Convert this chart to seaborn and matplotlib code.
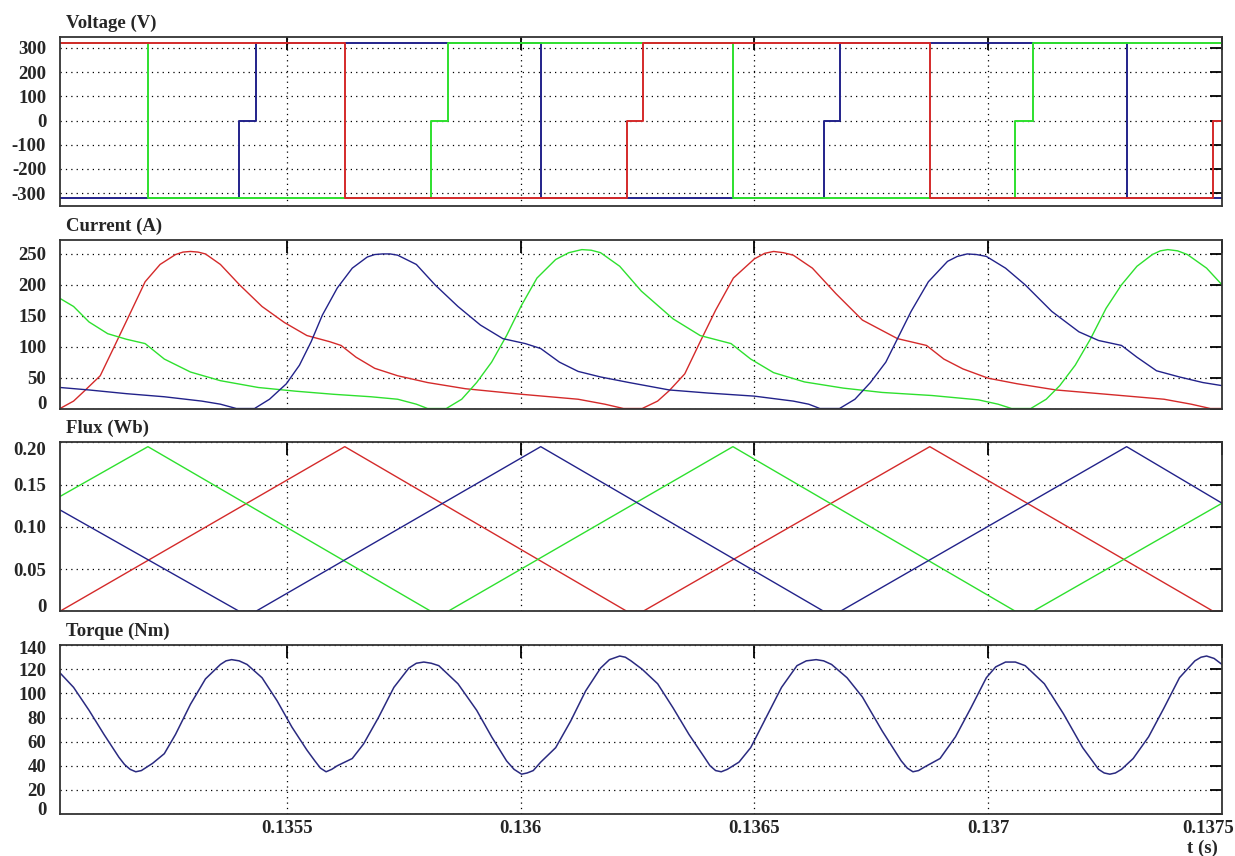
import numpy as np
import pandas as pd
import matplotlib
matplotlib.use('Agg')
import matplotlib.pyplot as plt
import matplotlib.transforms as mtrans
import seaborn as sns

# Plot look: plain white, bold serif text like the old scope printout
sns.set_style('white')
plt.rcParams['font.family'] = ['Liberation Serif', 'DejaVu Serif']
plt.rcParams['font.weight'] = 'bold'

RED = '#d42a2a'
GREEN = '#2ee02e'
BLUE = '#22228a'

# all times below are microseconds after T0
T0 = 0.135

red_sw = [15, 624, 1227, 1262, 1875, 2481, 2500]
green_sw = [15, 203, 808, 845, 1454, 2058, 2096, 2500]
blue_sw = [15, 398, 434, 1043, 1648, 1684, 2296, 2500]

# phase voltage after each switching instant (V)
red_volt = [320, -320, 0, 320, -320, 0, 0]
green_volt = [320, -320, 0, 320, -320, 0, 320, 320]
blue_volt = [-320, 0, 320, -320, 0, 320, -320, -320]

# flux linkage at the switching instants (Wb)
red_flux = [0, 0.195, 0, 0, 0.195, 0, 0]
green_flux = [0.136, 0.195, 0, 0, 0.195, 0, 0, 0.128]
blue_flux = [0.12, 0, 0, 0.195, 0, 0, 0.195, 0.128]

# ---- phase currents (us, A) ----
red_current = [(15, 0), (44, 12), (68, 29), (101, 53), (129, 97), (165, 154), (197, 205),
               (229, 233), (262, 249), (278, 253), (294, 254), (310, 253), (326, 250),
               (358, 233), (399, 200), (447, 165), (495, 139), (543, 118), (592, 108),
               (616, 102), (648, 83), (688, 65), (737, 53), (801, 42), (882, 32),
               (1002, 23), (1123, 15), (1180, 7), (1220, 0), (1260, 0), (1293, 12),
               (1318, 29), (1351, 56), (1384, 108), (1417, 159), (1455, 211), (1500, 242),
               (1522, 251), (1541, 254), (1562, 252), (1583, 248), (1624, 227), (1674, 186),
               (1731, 143), (1806, 113), (1868, 102), (1905, 80), (1946, 64), (2000, 49),
               (2062, 40), (2145, 30), (2269, 22), (2376, 15), (2434, 7), (2475, 0),
               (2500, 0)]
green_current = [(15, 178), (44, 165), (77, 140), (117, 121), (157, 112), (197, 105),
                 (238, 80), (294, 59), (358, 45), (439, 34), (519, 28), (600, 23),
                 (680, 19), (737, 15), (777, 7), (801, 0), (841, 0), (874, 15), (906, 42),
                 (938, 75), (970, 118), (1002, 167), (1035, 211), (1075, 241), (1103, 252),
                 (1131, 257), (1151, 256), (1171, 252), (1212, 230), (1258, 190),
                 (1326, 145), (1384, 118), (1450, 105), (1492, 80), (1541, 58), (1607, 43),
                 (1690, 33), (1773, 26), (1880, 21), (1979, 14), (2021, 7), (2050, 0),
                 (2091, 0), (2124, 15), (2153, 37), (2186, 70), (2219, 113), (2252, 162),
                 (2285, 200), (2318, 230), (2351, 249), (2368, 255), (2384, 257),
                 (2405, 255), (2426, 249), (2467, 227), (2500, 200)]
blue_current = [(15, 34), (77, 30), (157, 24), (238, 19), (318, 12), (358, 7), (392, 0),
                (431, 0), (463, 15), (499, 40), (527, 70), (552, 108), (576, 151),
                (608, 195), (640, 227), (672, 245), (688, 249), (705, 250), (721, 250),
                (737, 248), (777, 233), (817, 200), (866, 165), (914, 135), (962, 113),
                (1010, 105), (1043, 97), (1083, 75), (1123, 60), (1171, 51), (1232, 42),
                (1318, 30), (1401, 25), (1500, 20), (1583, 12), (1616, 7), (1640, 0),
                (1682, 0), (1715, 15), (1748, 42), (1781, 75), (1806, 113), (1835, 157),
                (1872, 205), (1913, 238), (1934, 246), (1955, 250), (1975, 249),
                (1996, 246), (2037, 227), (2079, 200), (2136, 157), (2194, 124),
                (2236, 110), (2285, 102), (2318, 83), (2360, 61), (2409, 51), (2459, 42),
                (2500, 37)]

# ---- total torque (us, Nm) ----
torque = [(15, 117), (44, 105), (77, 86), (109, 66), (141, 47), (153, 41), (165, 37),
          (177, 35), (189, 36), (201, 39), (213, 42), (238, 50), (262, 66), (294, 91),
          (326, 112), (358, 124), (370, 127), (382, 128), (398, 127), (415, 124),
          (447, 113), (479, 94), (511, 72), (543, 53), (560, 44), (572, 38), (584, 35),
          (596, 37), (608, 40), (624, 43), (640, 46), (664, 58), (696, 80), (729, 105),
          (761, 121), (777, 125), (793, 126), (809, 125), (825, 123), (866, 108),
          (906, 86), (938, 64), (970, 44), (986, 37), (1002, 33), (1014, 34), (1027, 36),
          (1043, 43), (1075, 55), (1107, 77), (1139, 102), (1171, 121), (1190, 128),
          (1212, 131), (1224, 130), (1236, 127), (1260, 120), (1293, 108), (1326, 88),
          (1360, 66), (1393, 47), (1405, 40), (1417, 36), (1429, 35), (1442, 37),
          (1467, 43), (1492, 55), (1525, 80), (1558, 105), (1591, 123), (1611, 127),
          (1632, 128), (1648, 127), (1665, 124), (1698, 113), (1731, 97), (1773, 69),
          (1814, 44), (1827, 38), (1839, 35), (1851, 36), (1864, 39), (1897, 46),
          (1930, 64), (1963, 88), (1996, 113), (2016, 122), (2037, 126), (2058, 126),
          (2079, 123), (2120, 108), (2161, 83), (2202, 55), (2236, 37), (2248, 34),
          (2260, 33), (2272, 34), (2285, 37), (2310, 46), (2343, 64), (2376, 88),
          (2409, 113), (2442, 127), (2455, 130), (2467, 131), (2483, 129), (2500, 124)]

x_ticks = [0.1355, 0.136, 0.1365, 0.137, 0.1375]
x_tick_labels = ['0.1355', '0.136', '0.1365', '0.137', '0.1375']


def to_df(pairs):
	df = pd.DataFrame(pairs, columns=['t_us', 'val'])
	df['t'] = T0 + df['t_us'] * 1e-6
	return df


def sw_df(sw, vals):
	return pd.DataFrame({'t': T0 + np.array(sw) * 1e-6, 'val': vals})


def nudge(label, dx_px, dy_px):
	# shift a tick label by some pixels (labels at the axis edges sit inside)
	label.set_transform(label.get_transform() +
						mtrans.ScaledTranslation(dx_px / 100, dy_px / 100, fig.dpi_scale_trans))


def style_panel(ax, title, yticks, ylabels, ylim, bottom_shift=0, top_shift=0):
	ax.set_xlim(T0 + 15e-6, T0 + 2500e-6)
	ax.set_ylim(*ylim)
	ax.set_xticks(x_ticks)
	ax.set_xticklabels(x_tick_labels)
	ax.set_yticks(yticks)
	ax.set_yticklabels(ylabels)
	ax.set_xlabel('')
	ax.set_ylabel('')
	ax.tick_params(direction='in', length=9, width=1.3, top=True, right=True,
				   labelsize=13.5, color='black')
	ax.tick_params(axis='y', pad=10)
	ax.tick_params(axis='x', pad=4)
	ax.grid(True, color='black', linestyle=(0, (1, 3.3)), linewidth=0.9)
	for s in ax.spines.values():
		s.set_linewidth(1.3)
		s.set_color('#333333')
	ax.text(0.005, 1.03, title, transform=ax.transAxes, ha='left', va='bottom',
			fontsize=13.5, fontweight='bold')
	labs = ax.get_yticklabels()
	if bottom_shift:
		nudge(labs[0], 0, bottom_shift)
	if top_shift:
		nudge(labs[-1], 0, -top_shift)


fig, axes = plt.subplots(4, 1, figsize=(12.35, 8.56), dpi=100)
fig.subplots_adjust(left=0.0486, right=0.9895, top=0.9568, bottom=0.0491, hspace=0.201)
ax_v, ax_i, ax_f, ax_t = axes

# Voltage: blue under green under red
for sw, v, c in [(blue_sw, blue_volt, BLUE), (green_sw, green_volt, GREEN), (red_sw, red_volt, RED)]:
	sns.lineplot(x='t', y='val', data=sw_df(sw, v), ax=ax_v, color=c, linewidth=1.4,
				 estimator=None, sort=False, drawstyle='steps-post')
style_panel(ax_v, 'Voltage (V)', [-300, -200, -100, 0, 100, 200, 300],
			['-300', '-200', '-100', '0', '100', '200', '300'], (-352, 345))

# Currents
for pairs, c in [(red_current, RED), (green_current, GREEN), (blue_current, BLUE)]:
	sns.lineplot(x='t', y='val', data=to_df(pairs), ax=ax_i, color=c, linewidth=1.0,
				 estimator=None, sort=False)
style_panel(ax_i, 'Current (A)', [0, 50, 100, 150, 200, 250],
			['0', '50', '100', '150', '200', '250'], (0, 273), bottom_shift=6)

# Flux
for sw, v, c in [(red_sw, red_flux, RED), (green_sw, green_flux, GREEN), (blue_sw, blue_flux, BLUE)]:
	sns.lineplot(x='t', y='val', data=sw_df(sw, v), ax=ax_f, color=c, linewidth=1.0,
				 estimator=None, sort=False)
style_panel(ax_f, 'Flux (Wb)', [0, 0.05, 0.10, 0.15, 0.20],
			['0', '0.05', '0.10', '0.15', '0.20'], (0, 0.20), bottom_shift=6, top_shift=6)

# Torque
sns.lineplot(x='t', y='val', data=to_df(torque), ax=ax_t, color='#2a2a80', linewidth=1.1,
			 estimator=None, sort=False)
style_panel(ax_t, 'Torque (Nm)', [0, 20, 40, 60, 80, 100, 120, 140],
			['0', '20', '40', '60', '80', '100', '120', '140'], (0, 140),
			bottom_shift=5, top_shift=2)

for ax in [ax_v, ax_i, ax_f]:
	ax.tick_params(labelbottom=False)

# last time label is pushed in so it stays inside the figure
nudge(ax_t.get_xticklabels()[-1], -14, 0)

fig.text(1202 / 1235, 1 - 848 / 856, 't (s)', ha='center', va='center', fontsize=13.5,
		 fontweight='bold')

fig.savefig('out.png', dpi=100)
